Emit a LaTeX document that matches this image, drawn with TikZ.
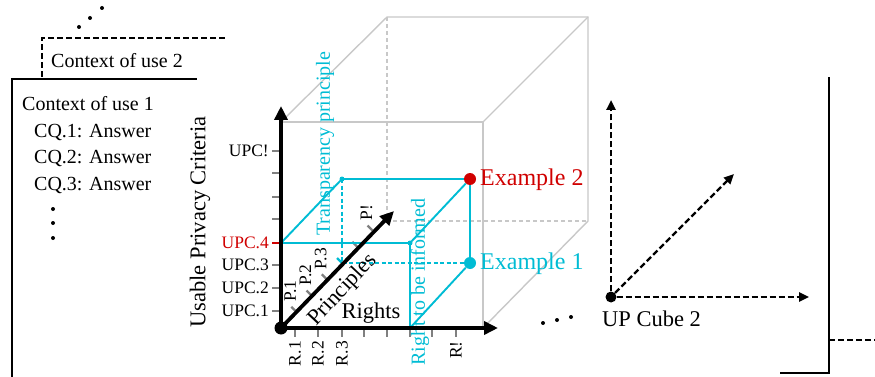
\documentclass[tikz,border=0pt]{standalone}
\usepackage{fontspec}
\setmainfont{Liberation Serif}
\usetikzlibrary{arrows.meta}
\definecolor{upcyan}{RGB}{0,188,212}
\definecolor{upred}{RGB}{208,0,0}
\definecolor{upgray}{RGB}{200,200,200}
\begin{document}
\begin{tikzpicture}[x=1pt, y=-1pt,
  axis/.style={line width=3.8pt, -{Triangle[length=14pt,width=13pt]}},
  dasharrow/.style={line width=2.4pt, dash pattern=on 6pt off 3pt, -{Triangle[length=10pt,width=9pt]}},
  cube/.style={upgray, line width=1.4pt},
  hidden/.style={upgray, line width=1.4pt, dash pattern=on 4pt off 3pt},
  tick/.style={gray, line width=2.2pt},
  link/.style={upcyan, line width=1.9pt},
  linkdash/.style={link, dash pattern=on 4pt off 2.5pt},
  frame/.style={line width=2.6pt},
  framedash/.style={frame, dash pattern=on 6pt off 3pt},
  dot/.style={circle, fill, inner sep=0pt, minimum size=#1},
  lab/.style={font=\fontsize{17.5}{20}\selectfont, inner sep=1pt},
  txt/.style={font=\fontsize{20}{24}\selectfont, inner sep=1pt},
  big/.style={font=\fontsize{22.5}{26}\selectfont, inner sep=1pt},
  ex/.style={font=\fontsize{24}{28}\selectfont, inner sep=1pt, anchor=west}
]
\useasboundingbox (0,0) rectangle (875,377);

% contexts of use
\coordinate (c2a) at (42,77);
\coordinate (c2b) at (42,38);
\coordinate (c2c) at (227,38);
\coordinate (c1a) at (12,377);
\coordinate (c1b) at (12,79);
\coordinate (c1c) at (197,79);
\draw[framedash] (c2a) -- (c2b) -- (c2c);
\draw[frame] (c1a) -- (c1b) -- (c1c);
\foreach \x/\y [count=\i] in {79/27,90/18,102/8} \node[dot=4pt] (up\i) at (\x,\y) {};
\node[txt, anchor=west] (ctx2) at (50,61) {Context of use 2};
\node[txt, anchor=west] (ctx1) at (21,104) {Context of use 1};
\foreach \y [count=\i] in {133,159,185}
  \node[txt, anchor=west] (cq\i) at (33,\y) {CQ.\i: Answer};
\foreach \y [count=\i] in {209,223,238} \node[dot=4pt] (vd\i) at (53,\y) {};

% cube
\coordinate (O) at (281,328);
\coordinate (FTL) at (281,122);
\coordinate (FTR) at (483,122);
\coordinate (FBR) at (483,328);
\coordinate (BTL) at (387,17);
\coordinate (BTR) at (588,17);
\coordinate (BBR) at (588,221);
\coordinate (BBL) at (387,221);
\draw[cube] (FTL) -- (FTR) -- (FBR);
\draw[cube] (FTL) -- (BTL) -- (BTR) -- (BBR) -- (FBR);
\draw[cube] (FTR) -- (BTR);
\draw[hidden] (BTL) -- (BBL) -- (BBR);

\foreach \x in {295,318,342,364,387,410,432,456} \draw[tick] (\x,328) -- ++(0,9);
\foreach \y in {311,288,265,219,197,173,151} \draw[tick] (281,\y) -- ++(-9,0);
\draw[tick, upred] (281,243) -- ++(-9,0);
\foreach \k in {1,2,3,5,6} \draw[tick] ({281+15.25*\k},{328-16.25*\k}) -- ++(-5,-5);
\draw[tick, upcyan] ({281+15.25*4},{328-16.25*4}) -- ++(-5,-5);

% examples
\coordinate (T) at (342,263);
\coordinate (TU) at (342,179);
\coordinate (U4) at (281,243);
\coordinate (RU) at (410,243);
\coordinate (R6) at (410,328);
\node[dot=12pt, upred] (ex2) at (470,179) {};
\node[dot=12pt, upcyan] (ex1) at (470,263) {};
\draw[link] (U4) -- (RU) -- (ex2);
\draw[link] (U4) -- (TU) -- (ex2) -- (ex1);
\draw[link] (RU) -- (R6) -- (ex1);
\draw[linkdash] (TU) -- (T) -- (ex1);
\node[dot=5pt, upcyan] (tu) at (TU) {};
\node[dot=5pt, upcyan] (ru) at (RU) {};
\node[ex, text=upred] (ex2l) at (479,180) {Example 2};
\node[ex, text=upcyan] (ex1l) at (479,264) {Example 1};
\node[txt, text=upcyan, rotate=90, anchor=west] (tp) at (325,237) {Transparency principle};
\node[txt, text=upcyan, rotate=90, anchor=west] (rbi) at (420,367) {Right to be informed};

% labels
\foreach \y/\t [count=\i] in {311/UPC.1,288/UPC.2,265/UPC.3}
  \node[lab, anchor=east] (upc\i) at (270,\y) {\t};
\node[lab, anchor=east, text=upred] (upc4) at (270,243) {UPC.4};
\node[lab, anchor=east] (upcn) at (270,151) {UPC!};
\foreach \x/\t [count=\i] in {295/R.1,318/R.2,342/R.3}
  \node[lab, anchor=east, rotate=90] (r\i) at (\x,340) {\t};
\node[lab, anchor=east, rotate=90] (rn) at (456,340) {R!};
\foreach \k/\t in {1/P.1,2/P.2,3/P.3,6/P!}
  \node[lab, anchor=west, rotate=90] (p\k) at ({275+15.25*\k},{319-16.25*\k}) {\t};
\node[big, rotate=90] (upcname) at (200,222) {Usable Privacy Criteria};
\node[big] (rights) at (371,313) {Rights};
\node[big, rotate=46.8] (princ) at (343,290) {Principles};

% axes
\coordinate (Ytip) at (281,106);
\coordinate (Xtip) at (498,328);
\coordinate (Ptip) at (394,211);
\draw[axis] (O) -- (Ytip);
\draw[axis] (O) -- (Xtip);
\draw[axis] (O) -- (Ptip);
\node[dot=13pt] (o) at (O) {};

% further cubes
\foreach \x/\y [count=\i] in {543/323,557/320,571/317} \node[dot=4pt] (md\i) at (\x,\y) {};
\node[dot=11pt] (o2) at (611,297) {};
\coordinate (y2) at (611,100);
\coordinate (x2) at (809,297);
\coordinate (p2) at (734,174);
\draw[dasharrow] (o2) -- (y2);
\draw[dasharrow] (o2) -- (x2);
\draw[dasharrow] (o2) -- (p2);
\node[big, anchor=west] (cube2) at (601,319) {UP Cube 2};

\coordinate (k1) at (780,373);
\coordinate (k2) at (829,373);
\coordinate (k3) at (829,77);
\coordinate (k4) at (829,340);
\coordinate (k5) at (875,340);
\draw[frame] (k1) -- (k2) -- (k3);
\draw[framedash] (k4) -- (k5);
\end{tikzpicture}
\end{document}
